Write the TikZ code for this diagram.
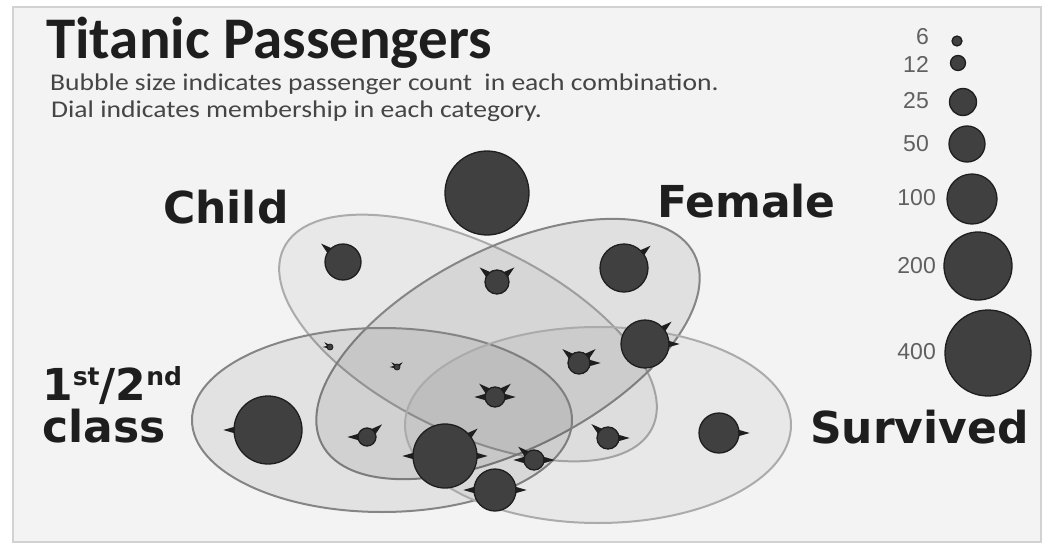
\documentclass[tikz,border=0pt]{standalone}
\usepackage{fontspec}
\usepackage{xcolor}
\usepackage{tikz}
\usetikzlibrary{shapes.geometric, calc}

\newfontfamily\titlefont{Carlito}
\newfontfamily\notefont{Carlito}[FakeStretch=1.15]
\newfontfamily\catfont{DejaVu Sans}
\newfontfamily\numfont{Liberation Sans}

\definecolor{pagebg}{HTML}{F3F3F3}
\definecolor{framegray}{HTML}{D2D2D2}
\definecolor{bubblegray}{HTML}{404040}
\definecolor{inkgray}{HTML}{1E1E1E}
\definecolor{ringlight}{HTML}{ABABAB}
\definecolor{ringdark}{HTML}{858585}
\definecolor{notegray}{HTML}{454545}

\newcommand{\dial}[3][10]{\fill[inkgray] ($(#2.#3)+(#3+90:{#1*0.32pt})+(#3:-1pt)$) -- ($(#2.#3)+(#3:{#1*1pt})$) -- ($(#2.#3)+(#3-90:{#1*0.32pt})+(#3:-1pt)$) -- cycle;}

\begin{document}
\begin{tikzpicture}[x=1pt,y=-1pt]
\tikzstyle{setring} = [ellipse, inner sep=0pt, line width=2pt, fill=black]
\tikzstyle{bubble} = [circle, inner sep=0pt, fill=bubblegray, draw=inkgray, line width=1.3pt]
\tikzstyle{catlabel} = [anchor=base west, inner sep=0pt, text=inkgray, font=\catfont\bfseries\fontsize{44}{48}\selectfont]
\tikzstyle{count} = [anchor=east, inner sep=0pt, text=gray!75!black, font=\numfont\fontsize{23}{25}\selectfont]
\tikzstyle{note} = [anchor=base west, inner sep=0pt, text=notegray, font=\notefont\fontsize{24}{26}\selectfont]

\useasboundingbox (0,0) rectangle (1045,546);
\fill[white] (0,0) rectangle (1045,546);
\draw[framegray, fill=pagebg, line width=1.5pt] (13,7) rectangle (1041,542);

\node (title) [anchor=base west, inner sep=0pt, text=inkgray, font=\titlefont\bfseries\fontsize{59}{60}\selectfont] at (46,58) {Titanic Passengers};
\node (note1) [note] at (50,90) {Bubble size indicates passenger count~ in each combination.};
\node (note2) [note] at (51,117) {Dial indicates membership in each category.};

\node (kidset) [setring, minimum width=410pt, minimum height=188pt, rotate=-26, draw=ringlight, fill opacity=0.045] at (468,338) {};
\node (femset) [setring, minimum width=418pt, minimum height=200pt, rotate=27, draw=ringdark, fill opacity=0.075] at (508,349) {};
\node (classset) [setring, minimum width=380pt, minimum height=184pt, draw=ringdark, fill opacity=0.065] at (382,420) {};
\node (survset) [setring, minimum width=386pt, minimum height=196pt, draw=ringlight, fill opacity=0.045] at (598,425) {};

\node (child) [catlabel] at (163,223) {Child};
\node (female) [catlabel] at (657,217) {Female};
\node (survived) [catlabel] at (810,443) {Survived};
\node (firstsecond) [catlabel] at (42,400) {1\raisebox{15pt}{\fontsize{25}{25}\selectfont st}/2\raisebox{15pt}{\fontsize{25}{25}\selectfont nd}};
\node (class) [catlabel] at (42,442) {class};

\node (none) [bubble, minimum size=84pt] at (487,193) {};
\node (kid) [bubble, minimum size=36pt] at (343,262) {};
\node (kidfem) [bubble, minimum size=24pt] at (497,282) {};
\node (fem) [bubble, minimum size=48pt] at (624,268) {};
\node (femsurv) [bubble, minimum size=48pt] at (645,344) {};
\node (kidfemsurv) [bubble, minimum size=22pt] at (579,363) {};
\node (surv) [bubble, minimum size=40pt] at (719,433) {};
\node (kidsurv) [bubble, minimum size=22pt] at (608,438) {};
\node (cls) [bubble, minimum size=68pt] at (268,430) {};
\node (clskid) [bubble, minimum size=6pt, line width=0.8pt] at (330,347) {};
\node (clskidfem) [bubble, minimum size=6pt, line width=0.8pt] at (397,367) {};
\node (clsfem) [bubble, minimum size=18pt] at (367,437) {};
\node (allfour) [bubble, minimum size=20pt] at (495,397) {};
\node (clsfemsurv) [bubble, minimum size=64pt] at (445,456) {};
\node (clssurv) [bubble, minimum size=42pt] at (495,490) {};
\node (clskidsurv) [bubble, minimum size=20pt] at (534,460) {};

\dial{kid}{140}
\dial{kidfem}{140} \dial{kidfem}{40}
\dial{fem}{40}
\dial{femsurv}{40} \dial{femsurv}{0}
\dial{kidfemsurv}{140} \dial{kidfemsurv}{40} \dial{kidfemsurv}{0}
\dial{surv}{0}
\dial{kidsurv}{140} \dial{kidsurv}{0}
\dial{cls}{180}
\dial[4]{clskid}{140} \dial[4]{clskid}{180}
\dial[4]{clskidfem}{140} \dial[4]{clskidfem}{40} \dial[4]{clskidfem}{180}
\dial{clsfem}{180} \dial{clsfem}{40}
\dial{allfour}{180} \dial{allfour}{140} \dial{allfour}{40} \dial{allfour}{0}
\dial{clsfemsurv}{180} \dial{clsfemsurv}{40} \dial{clsfemsurv}{0}
\dial{clssurv}{180} \dial{clssurv}{0}
\dial{clskidsurv}{180} \dial{clskidsurv}{140} \dial{clskidsurv}{0}

\node (leg6) [bubble, minimum size=10pt] at (957,41) {};
\node (leg12) [bubble, minimum size=15pt] at (958,63) {};
\node (leg25) [bubble, minimum size=27pt] at (963,102) {};
\node (leg50) [bubble, minimum size=36pt] at (967,144) {};
\node (leg100) [bubble, minimum size=50pt] at (972,199) {};
\node (leg200) [bubble, minimum size=68pt] at (978,266) {};
\node (leg400) [bubble, minimum size=86pt] at (988,353) {};

\node (lab6) [count] at (929,37) {6};
\node (lab12) [count] at (929,64) {12};
\node (lab25) [count] at (929,101) {25};
\node (lab50) [count] at (929,144) {50};
\node (lab100) [count] at (936,198) {100};
\node (lab200) [count] at (936,266) {200};
\node (lab400) [count] at (936,352) {400};
\end{tikzpicture}
\end{document}
